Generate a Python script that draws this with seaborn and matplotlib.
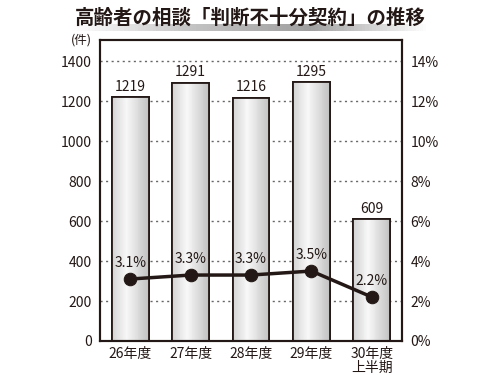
import numpy as np
import pandas as pd
import matplotlib
matplotlib.use("Agg")
import matplotlib.pyplot as plt
import seaborn as sns
from matplotlib.colors import LinearSegmentedColormap

categories = ["26年度", "27年度", "28年度", "29年度", "30年度\n上半期"]
counts = [1219, 1291, 1216, 1295, 609]
ratios = [3.1, 3.3, 3.3, 3.5, 2.2]

df = pd.DataFrame({"year": categories, "count": counts, "ratio": ratios})

sns.set_style("white")
plt.rcParams['font.family'] = ['Noto Sans CJK JP', 'DejaVu Sans']

ink = "#231815"
fig = plt.figure(figsize=(5, 3.75), dpi=100)
ax = fig.add_axes([0.2, 0.0907, 0.604, 0.802])

sns.barplot(data=df, x="year", y="count", ax=ax, width=0.61,
            color="#e6e6e6", edgecolor=ink, linewidth=1.3, zorder=2)

# gradient fill inside the bars, built from thin strips
grad_cmap = LinearSegmentedColormap.from_list(
    "bar", [(0, "#d4d4d4"), (0.4, "#f8f8f8"), (1, "#c2c2c2")])
nstrip = 40
for bar in list(ax.patches):
    x0, w, h = bar.get_x(), bar.get_width(), bar.get_height()
    for k in range(nstrip):
        ax.add_patch(plt.Rectangle((x0 + w * k / nstrip, 0), w / nstrip * 1.05, h,
                                   facecolor=grad_cmap(k / (nstrip - 1)),
                                   edgecolor="none", zorder=2.1))
    ax.add_patch(plt.Rectangle((x0, 0), w, h, fill=False,
                               edgecolor=ink, lw=1.3, zorder=2.2))

for i, v in enumerate(counts):
    ax.text(i, v + 18, str(v), ha="center", va="bottom", fontsize=10,
            color=ink, zorder=5)

ax.set_xlim(-0.5, 4.5)
ax.set_ylim(0, 1505)
ax.set_yticks(range(0, 1401, 200))
for yv in range(200, 1401, 200):
    ax.axhline(yv, linestyle=(0, (1.5, 2.5)), color="#666666", lw=1.0, zorder=1)
ax.set_xlabel("")
ax.set_ylabel("")
ax.tick_params(axis="y", length=0, labelsize=10, colors=ink, pad=6)
ax.tick_params(axis="x", length=0, labelsize=10, colors=ink, pad=4)
ax.set_xticks(range(5))
ax.set_xticklabels(categories, linespacing=1.0, va="top")
ax.set_xticks([0.5, 1.5, 2.5, 3.5], minor=True)
ax.tick_params(axis="x", which="minor", direction="in", length=2, width=1.2,
               color=ink)
for s in ax.spines.values():
    s.set_color(ink)
    s.set_linewidth(1.5)

ax2 = ax.twinx()
sns.lineplot(data=df, x="year", y="ratio", ax=ax2, color=ink, lw=2.5,
             marker="o", markersize=9, markeredgecolor=ink, zorder=6,
             sort=False)
ax2.set_ylim(0, 15.05)
ax2.set_yticks(range(0, 15, 2))
ax2.set_yticklabels([f"{v}%" for v in range(0, 15, 2)])
ax2.tick_params(axis="y", length=0, labelsize=10, colors=ink, pad=6)
ax2.set_ylabel("")
ax2.set_xlabel("")
for s in ax2.spines.values():
    s.set_color(ink)
    s.set_linewidth(1.5)

for i, r in enumerate(ratios):
    ax2.text(i, r + 0.45, f"{r}%", ha="center", va="bottom", fontsize=10,
             color=ink, zorder=7)

fig.text(0.162, 0.893, "(件)", ha="center", va="center", fontsize=9,
         color=ink)

# title with gradient underline
uax = fig.add_axes([0.14, 0.918, 0.72, 0.018])
ucmap = LinearSegmentedColormap.from_list("u", ["#ffffff", "#c4c4c4", "#a0a0a0", "#ffffff"])
uax.imshow(np.linspace(0, 1, 100).reshape(1, -1), cmap=ucmap, aspect="auto")
uax.axis("off")
fig.text(0.5, 0.925, "高齢者の相談「判断不十分契約」の推移", ha="center",
         va="bottom", fontsize=14, fontweight="bold", color=ink)

fig.savefig("out.png", dpi=100)
